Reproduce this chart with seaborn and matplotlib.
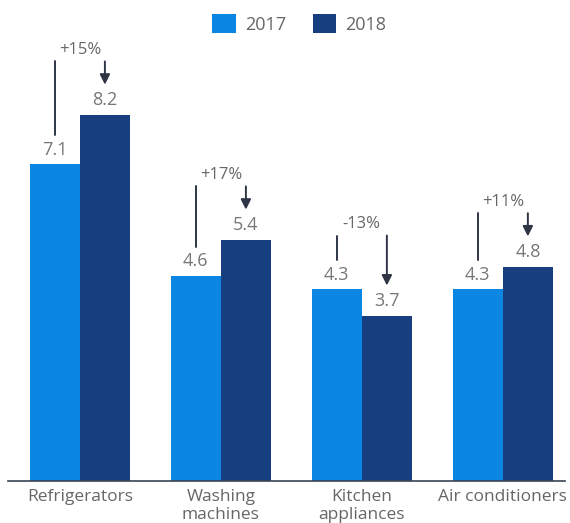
import numpy as np
import pandas as pd
import matplotlib.pyplot as plt
import seaborn as sns

categories = ['Refrigerators', 'Washing\nmachines', 'Kitchen\nappliances', 'Air conditioners']
sales_2017 = [7.1, 4.6, 4.3, 4.3]
sales_2018 = [8.2, 5.4, 3.7, 4.8]
changes = ['+15%', '+17%', '-13%', '+11%']
years = ['2017', '2018']

df = pd.DataFrame({
    'category': categories * 2,
    'value': sales_2017 + sales_2018,
    'year': [years[0]] * 4 + [years[1]] * 4,
})

sns.set_style('white')
plt.rcParams['font.family'] = ['Open Sans', 'DejaVu Sans']

fig = plt.figure(figsize=(5.7, 5.23), dpi=100)
ax = fig.add_axes([0.014, 0.0803, 0.977, 0.8432])

palette = {'2017': '#0c86e3', '2018': '#173f7f'}
sns.barplot(data=df, x='category', y='value', hue='year', palette=palette,
            width=0.71, gap=0, saturation=1, linewidth=0, ax=ax)
ax.get_legend().remove()

ax.set_xlim(-0.51, 3.44)
ax.set_ylim(0, 9.88)
ax.set_xlabel('')
ax.set_ylabel('')
ax.set_yticks([])
for s in ['top', 'right', 'left']:
    ax.spines[s].set_visible(False)
ax.spines['bottom'].set_color('#3a4354')
ax.spines['bottom'].set_linewidth(1.2)
ax.tick_params(axis='x', length=0, pad=6, labelsize=12.5, labelcolor='#666666')
for lbl in ax.get_xticklabels():
    lbl.set_linespacing(1.1)

# value labels
for cont in ax.containers:
    ax.bar_label(cont, fmt='%.1f', padding=4, fontsize=13, color='#777777')

# change annotations
off = 0.71 / 4
line_col = '#2e3545'
for i, (a, b, c) in enumerate(zip(sales_2017, sales_2018, changes)):
    ty = max(a, b) + 1.45
    ax.text(i, ty, c, ha='center', va='center', fontsize=12, color='#666666')
    ax.plot([i - off, i - off], [a + 0.65, ty - 0.25], color=line_col, lw=1.4)
    ax.annotate('', xy=(i + off, b + 0.68), xytext=(i + off, ty - 0.25),
                arrowprops=dict(arrowstyle='-|>', color=line_col, lw=1.4,
                                mutation_scale=15, shrinkA=0, shrinkB=0))

handles, labels = ax.get_legend_handles_labels()
fig.legend(handles, labels, loc='upper center', bbox_to_anchor=(0.525, 1.005),
           ncol=2, frameon=False, fontsize=13, labelcolor='#666666',
           handlelength=1.3, handleheight=1.3, handletextpad=0.5, columnspacing=1.5)

fig.savefig('out.png', dpi=100)
